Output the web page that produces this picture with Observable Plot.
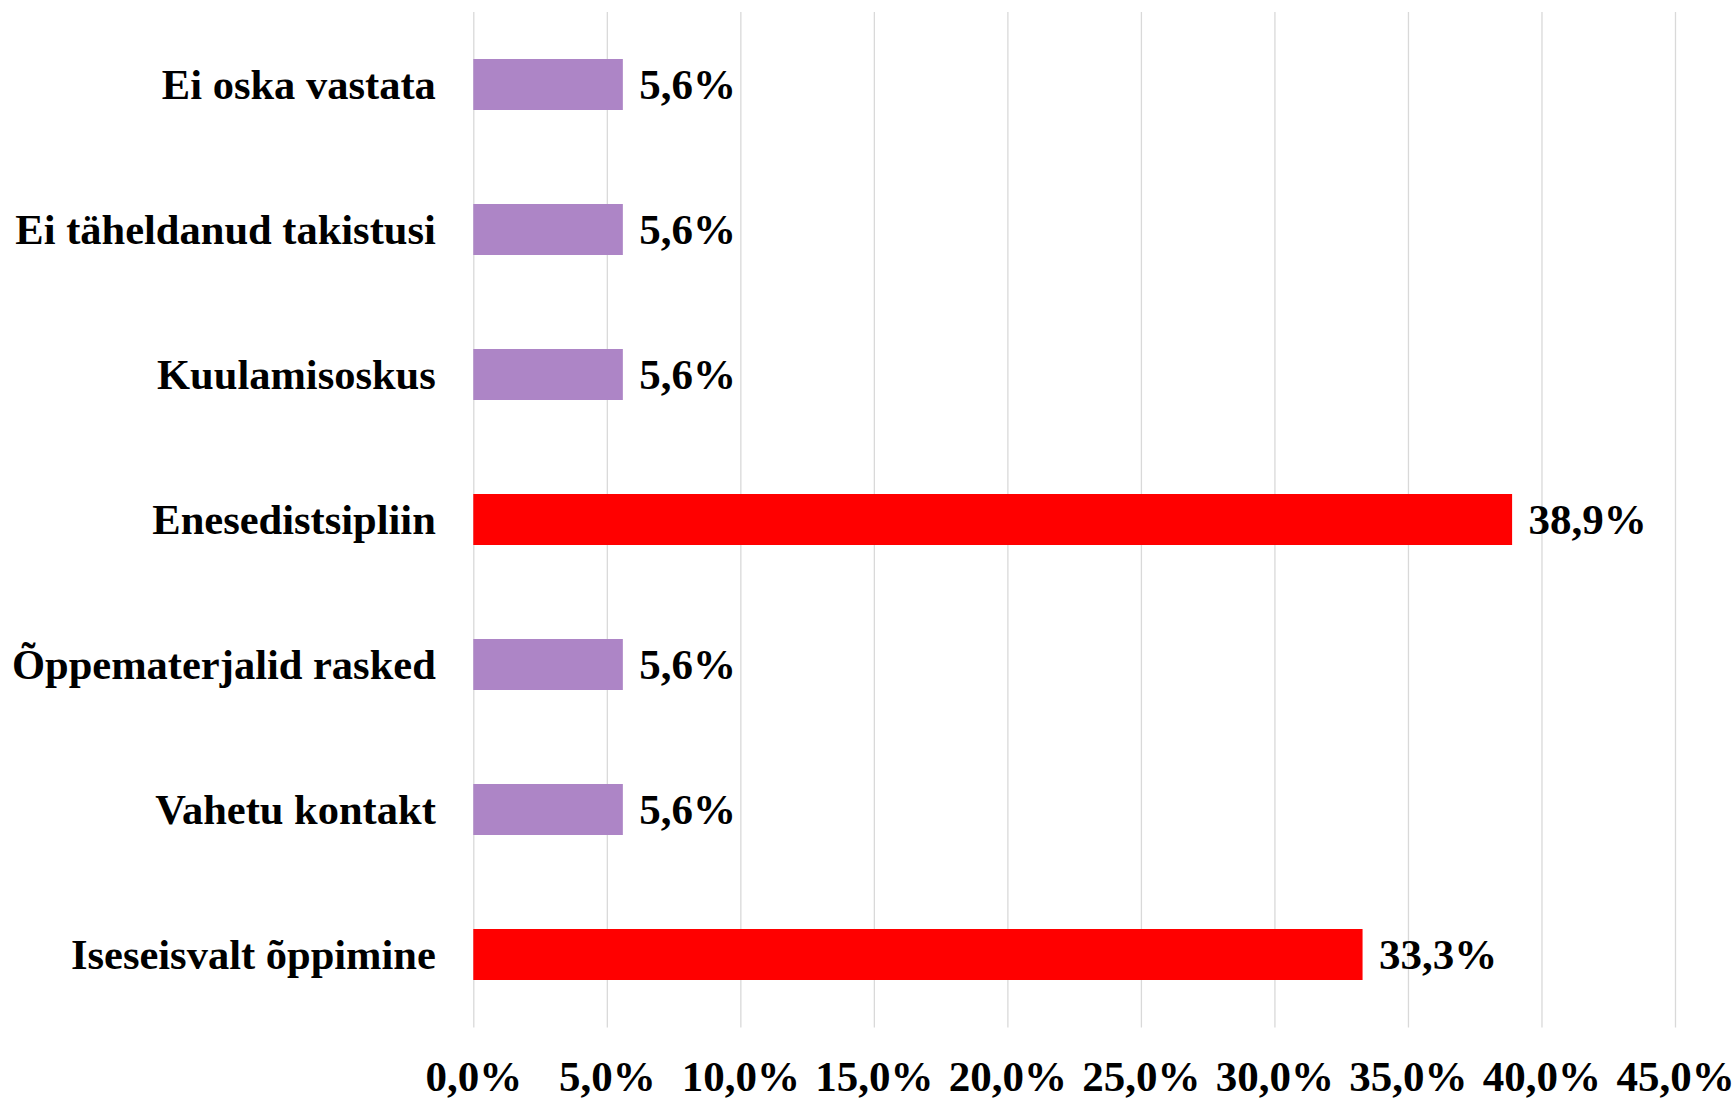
<!DOCTYPE html>
<html>
<head>
<meta charset="utf-8">
<script src="https://cdn.jsdelivr.net/npm/d3@7"></script>
<script src="https://cdn.jsdelivr.net/npm/@observablehq/plot@0.6"></script>
<style>
  html, body { margin: 0; padding: 0; background: #fff; }
</style>
</head>
<body>
<div id="chart"></div>
<script>
const categories = ["Ei oska vastata", "Ei täheldanud takistusi", "Kuulamisoskus", "Enesedistsipliin", "Õppematerjalid rasked", "Vahetu kontakt", "Iseseisvalt õppimine"];
const values = [5.6, 5.6, 5.6, 38.9, 5.6, 5.6, 33.3];
const barColors = ["#AD85C6", "#AD85C6", "#AD85C6", "#FF0000", "#AD85C6", "#AD85C6", "#FF0000"];
const xTicks = [0, 5, 10, 15, 20, 25, 30, 35, 40, 45];

const data = categories.map((c, i) => ({category: c, value: values[i], color: barColors[i]}));
const fmt = v => d3.format(".1f")(v).replace(".", ",") + "%";

const chart = Plot.plot({
  width: 1735,
  height: 1099,
  marginTop: 12,
  marginBottom: 71.5,
  marginLeft: 473.3,
  marginRight: 60,
  style: {fontFamily: "'Liberation Serif', 'Times New Roman', serif", fontSize: "43px", fontWeight: "bold", color: "#000", background: "#fff"},
  x: {domain: [0, 45], ticks: xTicks, tickFormat: v => fmt(v)},
  y: {domain: categories, paddingInner: 0.648, paddingOuter: 0.324, label: null},
  marks: [
    Plot.gridX(xTicks, {stroke: "#d9d9d9", strokeOpacity: 1, strokeWidth: 1.3}),
    Plot.barX(data, {x: "value", y: "category", fill: "color"}),
    Plot.text(data, {x: "value", y: "category", text: d => fmt(d.value), textAnchor: "start", dx: 16, fontSize: 43, fontWeight: "bold", fill: "#000"}),
    Plot.axisX({ticks: xTicks, tickSize: 0, tickPadding: 32, label: null, tickFormat: v => fmt(v), fontSize: 43}),
    Plot.axisY({tickSize: 0, tickPadding: 38, label: null, fontSize: 42.5})
  ]
});
document.getElementById("chart").appendChild(chart);
</script>
</body>
</html>
